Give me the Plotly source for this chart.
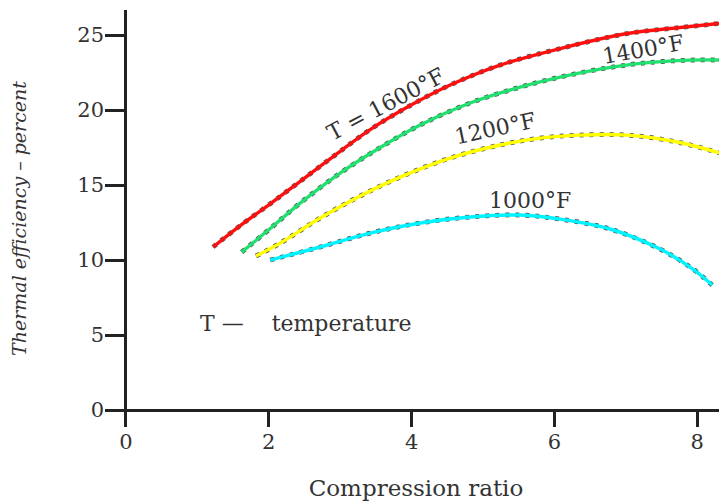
import plotly.graph_objects as go

# Compression ratio / thermal efficiency (%)
x_1600 = [1.22, 1.60, 2.02, 2.44, 2.93, 3.42, 3.98, 4.54, 5.24, 6.08, 7.02, 7.76, 8.36]
y_1600 = [10.87, 12.3, 13.75, 15.25, 17.0, 18.7, 20.3, 21.67, 23.0, 24.1, 25.1, 25.5, 25.8]

x_1400 = [1.62, 2.02, 2.44, 3.00, 3.56, 4.12, 4.82, 5.52, 6.08, 6.64, 7.24, 7.90, 8.36]
y_1400 = [10.53, 12.1, 13.8, 15.8, 17.5, 19.0, 20.47, 21.53, 22.2, 22.73, 23.13, 23.33, 23.33]

x_1200 = [1.82, 2.16, 2.72, 3.28, 3.84, 4.54, 5.24, 5.80, 6.36, 7.02, 7.72, 8.32]
y_1200 = [10.27, 11.13, 12.8, 14.27, 15.53, 16.8, 17.67, 18.13, 18.33, 18.33, 17.87, 17.13]

x_1000 = [2.02, 2.72, 3.42, 4.12, 4.82, 5.52, 6.08, 6.78, 7.48, 7.94, 8.21]
y_1000 = [10.0, 10.87, 11.8, 12.47, 12.87, 13.0, 12.73, 12.07, 10.73, 9.4, 8.33]

x_ticks = [0, 2, 4, 6, 8]
y_ticks = [0, 5, 10, 15, 20, 25]

series = [
    (x_1600, y_1600, "#ff1010", "T = 1600°F"),
    (x_1400, y_1400, "#22e070", "1400°F"),
    (x_1200, y_1200, "#ffff00", "1200°F"),
    (x_1000, y_1000, "#00f4ff", "1000°F"),
]

fig = go.Figure()
for xs, ys, col, name in series:
    fig.add_trace(go.Scatter(x=xs, y=ys, mode="lines", line=dict(color="#555555", width=4.8, dash="4px,6px", shape="spline"),
                             hoverinfo="skip", showlegend=False))
    fig.add_trace(go.Scatter(x=xs, y=ys, mode="lines", name=name,
                             line=dict(color=col, width=3.4, shape="spline"), showlegend=False))

serif = "DejaVu Serif"
txt = "#333333"
annots = [
    dict(x=3.63, y=20.4, text="T = 1600°F", textangle=-28, size=22),
    dict(x=7.24, y=24.05, text="1400°F", textangle=-10, size=22),
    dict(x=5.17, y=18.75, text="1200°F", textangle=-12, size=22),
    dict(x=5.66, y=14.0, text="1000°F", textangle=0, size=22),
    dict(x=2.52, y=5.8, text="T —    temperature", textangle=0, size=22),
]
for a in annots:
    fig.add_annotation(x=a["x"], y=a["y"], text=a["text"], textangle=a["textangle"], showarrow=False,
                       font=dict(family=serif, size=a["size"], color=txt))

# page body has an 8px default margin, so the figure is sized/offset to compensate
fig.update_layout(
    width=719, height=495,
    margin=dict(l=97, r=0, t=2, b=76),
    paper_bgcolor="white", plot_bgcolor="white",
    xaxis=dict(range=[-0.294, 8.417], tickvals=x_ticks, ticktext=[str(v) for v in x_ticks],
               ticks="inside", ticklen=17, tickwidth=3, tickcolor="#222", automargin=False,
               showgrid=False, showline=False, zeroline=True, zerolinecolor="#222", zerolinewidth=3,
               tickfont=dict(family=serif, size=21, color=txt),
               title=dict(text="Compression ratio", font=dict(family=serif, size=23, color=txt), standoff=26)),
    yaxis=dict(range=[-1.13, 26.67], tickvals=y_ticks, ticktext=[str(v) for v in y_ticks],
               ticks="inside", ticklen=21, tickwidth=3, tickcolor="#222", automargin=False,
               showgrid=False, showline=False, zeroline=True, zerolinecolor="#222", zerolinewidth=3,
               tickfont=dict(family=serif, size=21, color=txt),
               title=dict(text="<i>Thermal efficiency – percent</i>", font=dict(family=serif, size=19, color=txt), standoff=45)),
)

fig.write_html("out.html")
